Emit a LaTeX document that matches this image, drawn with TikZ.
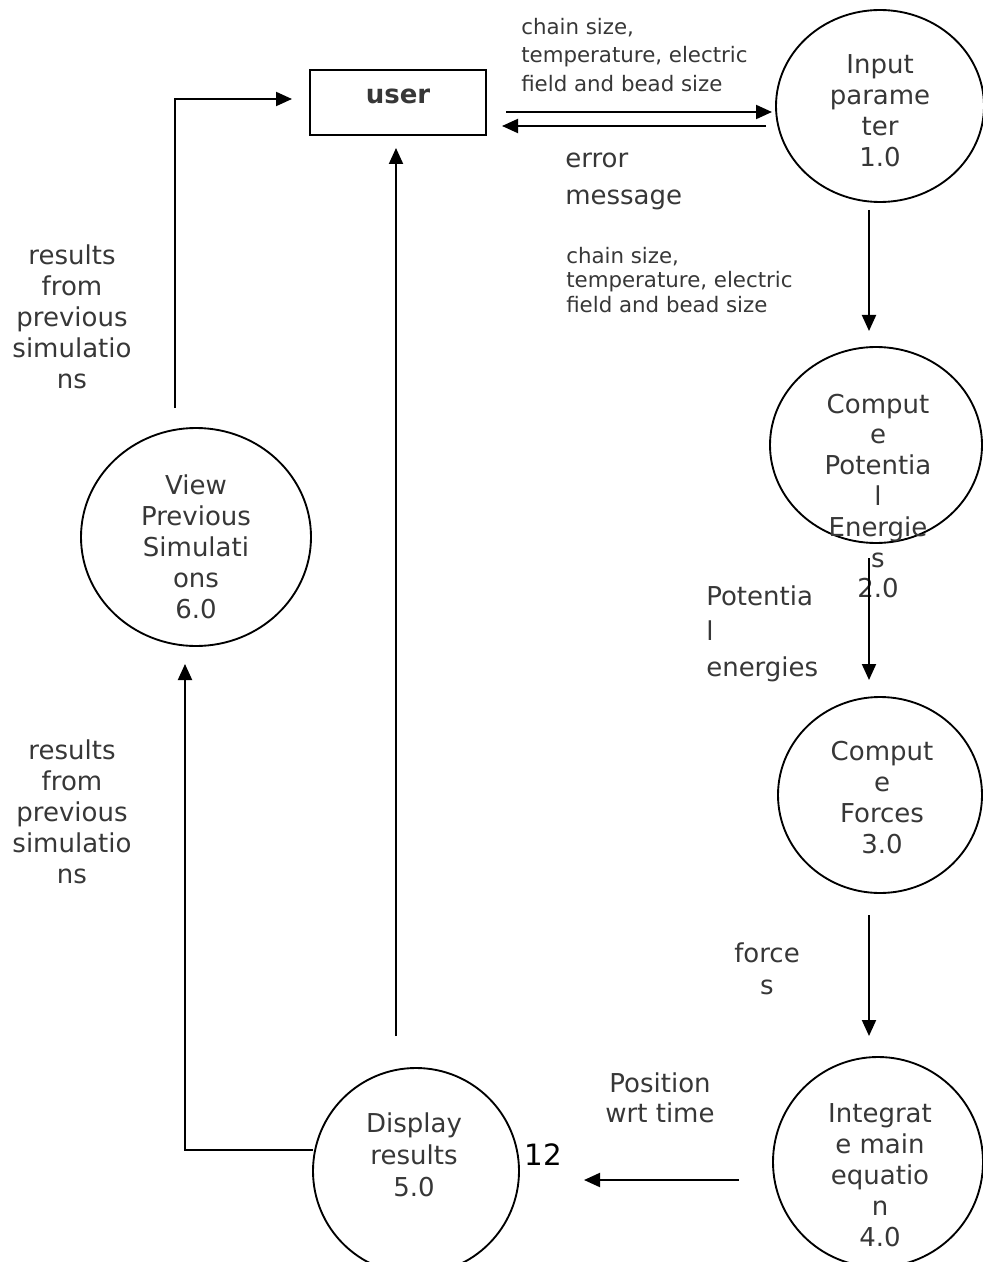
\documentclass[tikz,border=0pt]{standalone}
\usepackage{fontspec}
\setmainfont{DejaVu Sans}
\usetikzlibrary{shapes.geometric,arrows.meta}
\definecolor{inkgray}{RGB}{55,55,55}
\begin{document}
\begin{tikzpicture}[x=0.75pt,y=-0.75pt,
  proc/.style={draw, ellipse, line width=1.4pt, inner sep=0pt, outer sep=0pt},
  store/.style={draw, rectangle, line width=1.5pt, inner sep=0pt, outer sep=0pt},
  txt/.style={inner sep=0pt, text=inkgray, align=center,
    font=\fontsize{19.5}{23.25}\selectfont},
  lefttxt/.style={inner sep=0pt, text=inkgray, align=left, anchor=west},
  flow/.style={line width=1.5pt, line join=miter,
    -{Triangle[length=12pt,width=10.5pt]}},
]
\useasboundingbox (0,0) rectangle (982,1262);

% external entity
\node[store, minimum width=132pt, minimum height=48.75pt] (user) at (398,102.5) {};
\node[txt, font=\fontsize{19.5}{23.25}\selectfont\bfseries] (usertxt) at (398,96) {user};

% processes
\node[proc, minimum width=156pt,   minimum height=144pt]   (p1) at (880,106)  {};
\node[proc, minimum width=159pt,   minimum height=147pt]   (p2) at (876,445)  {};
\node[proc, minimum width=153pt,   minimum height=147pt]   (p3) at (880,795)  {};
\node[proc, minimum width=157.5pt, minimum height=157.5pt] (p4) at (878,1162) {};
\node[proc, minimum width=154.5pt, minimum height=154.5pt] (p5) at (416,1171) {};
\node[proc, minimum width=172.5pt, minimum height=163.5pt] (p6) at (196,537)  {};

\node[txt] (t1) at (880,111) {Input\\parame\\ter\\1.0};
\node[txt, font=\fontsize{19.5}{23.1}\selectfont] (t2) at (878,496)
  {Comput\\e\\Potentia\\l\\Energie\\s\\2.0};
\node[txt] (t3) at (882,797.5) {Comput\\e\\Forces\\3.0};
\node[txt] (t4) at (880,1175) {Integrat\\e main\\equatio\\n\\4.0};
\node[txt, font=\fontsize{19.5}{24}\selectfont] (t5) at (414,1155) {Display\\results\\5.0};
\node[txt] (t6) at (196,547) {View\\Previous\\Simulati\\ons\\6.0};

% flow labels
\node[lefttxt, font=\fontsize{16}{21.4}\selectfont] (l1) at (521,55)
  {chain size,\\temperature, electric\\field and bead size};
\node[lefttxt, font=\fontsize{19.5}{27.75}\selectfont] (l2) at (565,181.5)
  {error\\message};
\node[lefttxt, font=\fontsize{16}{18.4}\selectfont] (l3) at (566,280)
  {chain size,\\temperature, electric\\field and bead size};
\node[lefttxt, font=\fontsize{19.5}{26.6}\selectfont] (l4) at (706,633.5)
  {Potentia\\l\\energies};
\node[txt, font=\fontsize{19.5}{24}\selectfont] (l5) at (767,969) {force\\s};
\node[txt, font=\fontsize{19.5}{22.5}\selectfont] (l6) at (660,1098) {Position\\wrt time};
\node[inner sep=0pt, font=\fontsize{22}{26}\selectfont] (l7) at (543,1155) {12};
\node[txt] (l8) at (72,316.5) {results\\from\\previous\\simulatio\\ns};
\node[txt] (l9) at (72,812) {results\\from\\previous\\simulatio\\ns};

% connector end points
\coordinate (a1s) at (506,112);  \coordinate (a1e) at (772,112);
\coordinate (a2s) at (766,126);  \coordinate (a2e) at (502,126);
\coordinate (a3s) at (869,210);  \coordinate (a3e) at (869,331);
\coordinate (a4s) at (869,558);  \coordinate (a4e) at (869,680);
\coordinate (a5s) at (869,915);  \coordinate (a5e) at (869,1036);
\coordinate (a6s) at (739,1180); \coordinate (a6e) at (584,1180);
\coordinate (a7s) at (396,1036); \coordinate (a7e) at (396,148);
\coordinate (a8s) at (313,1150); \coordinate (a8m) at (185,1150); \coordinate (a8e) at (185,664);
\coordinate (a9s) at (175,408);  \coordinate (a9m) at (175,99);   \coordinate (a9e) at (292,99);

% data flows
\draw[flow] (a1s) -- (a1e);
\draw[flow] (a2s) -- (a2e);
\draw[flow] (a3s) -- (a3e);
\draw[flow] (a4s) -- (a4e);
\draw[flow] (a5s) -- (a5e);
\draw[flow] (a6s) -- (a6e);
\draw[flow] (a7s) -- (a7e);
\draw[flow] (a8s) -- (a8m) -- (a8e);
\draw[flow] (a9s) -- (a9m) -- (a9e);
\end{tikzpicture}
\end{document}
